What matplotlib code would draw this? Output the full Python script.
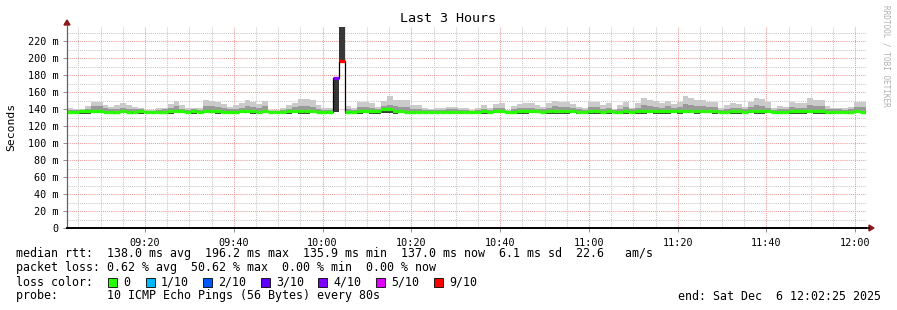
import numpy as np
import matplotlib
matplotlib.use("Agg")
import matplotlib.pyplot as plt
from matplotlib.patches import Rectangle

# ---------------- data ----------------
step_s = 80
start_s = 9 * 3600 + 2 * 60 + 25          # 09:02:25
span_s = 3 * 3600                          # 3 hours

ping_max = [140.8, 140.0, 140.0, 143.5, 148.6, 147.8, 144.7, 142.7, 144.7, 146.7,
            144.7, 142.7, 140.8, 138.8, 138.8, 140.8, 141.6, 145.9, 149.4, 144.7,
            140.8, 141.6, 140.8, 150.6, 149.8, 148.6, 145.5, 142.7, 144.7, 146.7,
            150.6, 148.6, 145.5, 149.4, 138.8, 138.8, 140.8, 144.7, 147.5, 151.8,
            151.8, 150.6, 144.7, 140.8, 140.8, 176.0, 245.0, 143.5, 140.8, 148.6,
            148.6, 146.7, 142.7, 149.8, 155.3, 150.6, 150.6, 150.6, 144.7, 144.7,
            140.8, 139.6, 140.8, 140.8, 142.7, 142.0, 141.0, 140.8, 138.8, 141.6,
            144.7, 141.6, 145.5, 146.7, 138.8, 143.5, 145.5, 146.7, 146.7, 144.7,
            142.7, 146.7, 149.4, 147.8, 148.6, 145.5, 142.7, 140.8, 148.6, 148.6,
            144.7, 146.7, 140.0, 144.7, 147.8, 141.6, 146.7, 153.3, 150.6, 149.4,
            146.7, 149.4, 145.5, 148.6, 155.0, 152.5, 150.6, 150.6, 147.8, 147.8,
            140.8, 144.7, 146.7, 145.5, 142.7, 148.6, 153.3, 151.8, 147.8, 140.8,
            143.9, 142.7, 147.8, 146.7, 146.7, 153.3, 150.6, 150.6, 143.9, 141.6,
            141.6, 140.8, 142.7, 148.6, 148.6]

ping_upper = [139.0, 138.6, 139.2, 140.5, 143.5, 143.0, 141.0, 140.0, 140.5, 141.0,
              140.5, 140.0, 139.5, 137.8, 137.8, 138.6, 139.5, 141.5, 143.0, 140.5,
              138.8, 139.8, 139.0, 143.0, 143.5, 142.0, 141.0, 139.8, 140.5, 141.0,
              143.0, 142.5, 141.0, 143.5, 137.8, 137.8, 138.8, 140.5, 142.0, 143.5,
              144.0, 142.5, 140.5, 139.0, 138.8, 176.0, 245.0, 140.0, 138.8, 142.0,
              142.5, 141.5, 140.0, 143.0, 145.0, 143.0, 142.5, 142.0, 140.5, 140.0,
              138.8, 138.5, 139.0, 139.0, 139.8, 139.5, 139.0, 139.0, 137.8, 139.0,
              140.5, 139.0, 141.0, 141.0, 137.8, 140.0, 141.0, 141.5, 141.5, 140.5,
              139.8, 141.5, 143.0, 142.0, 142.5, 141.0, 139.8, 139.0, 142.5, 142.5,
              140.5, 141.5, 138.8, 140.5, 142.0, 139.5, 141.0, 144.5, 143.0, 142.5,
              141.0, 143.0, 141.0, 142.5, 145.5, 144.5, 143.5, 143.0, 142.0, 142.0,
              138.8, 140.5, 141.5, 141.0, 140.0, 142.5, 144.5, 143.5, 141.5, 138.8,
              140.5, 140.0, 142.0, 141.5, 141.5, 144.5, 143.0, 143.0, 140.5, 139.5,
              139.5, 139.0, 140.0, 142.0, 142.5]

ping_dark = [135.5, 135.2, 135.8, 135.0, 135.5, 135.9, 135.3, 135.6, 134.9, 135.8,
             135.2, 135.9, 135.0, 135.3, 135.2, 135.6, 135.8, 134.9, 135.4, 135.6,
             135.2, 136.0, 135.0, 135.9, 135.5, 135.0, 135.8, 135.3, 135.1, 135.7,
             135.9, 135.2, 135.3, 135.8, 135.3, 135.2, 135.0, 135.7, 135.4, 136.0,
             136.1, 135.3, 135.1, 135.4, 135.0, 176.0, 245.0, 135.0, 135.3, 135.9,
             136.0, 135.8, 135.5, 137.5, 137.8, 135.8, 135.6, 135.2, 135.0, 135.1,
             135.3, 135.1, 135.2, 135.0, 135.3, 135.0, 135.1, 135.2, 135.3, 135.0,
             135.8, 135.6, 135.9, 135.5, 135.3, 135.2, 135.9, 136.0, 135.3, 135.0,
             135.4, 135.8, 136.0, 135.5, 135.9, 135.9, 135.0, 135.2, 136.0, 135.9,
             135.0, 135.6, 135.0, 135.2, 136.0, 135.0, 135.9, 136.2, 135.5, 136.0,
             135.5, 135.9, 135.1, 136.2, 135.8, 136.2, 135.5, 135.9, 135.2, 135.6,
             135.0, 135.4, 135.9, 135.2, 135.1, 135.9, 136.1, 135.3, 135.9, 135.1,
             135.3, 135.1, 135.9, 135.6, 135.4, 136.1, 135.9, 135.5, 135.0, 135.2,
             135.2, 135.0, 135.4, 135.8, 135.3]

ping_min = [134.8, 135.0, 134.6, 134.5, 134.8, 135.0, 134.9, 135.0, 134.6, 134.8,
            135.0, 134.5, 134.4, 135.0, 135.1, 135.0, 134.8, 134.6, 134.8, 135.0,
            135.0, 134.2, 134.8, 134.9, 135.0, 134.6, 134.8, 135.0, 134.6, 134.9,
            134.8, 134.6, 134.8, 135.0, 135.2, 135.1, 134.8, 134.5, 134.8, 134.6,
            134.4, 134.8, 134.9, 134.6, 134.8, 137.0, 196.0, 134.4, 135.0, 134.6,
            134.8, 134.3, 134.6, 135.5, 135.0, 134.7, 134.9, 135.0, 134.9, 135.0,
            135.1, 135.0, 135.0, 134.8, 134.9, 134.8, 135.0, 135.0, 135.2, 134.8,
            134.6, 134.6, 134.9, 135.0, 135.1, 134.8, 134.6, 134.7, 134.8, 134.9,
            134.9, 134.5, 134.4, 134.7, 134.6, 134.8, 134.6, 134.9, 134.4, 134.7,
            134.2, 134.5, 134.9, 134.3, 134.7, 134.8, 134.5, 134.6, 134.8, 134.7,
            134.6, 134.2, 134.8, 134.7, 134.9, 134.8, 134.6, 134.8, 134.8, 134.6,
            135.0, 134.8, 134.6, 134.5, 134.8, 134.9, 134.7, 134.4, 134.8, 135.0,
            134.6, 134.8, 134.4, 134.7, 134.7, 134.8, 134.6, 134.5, 134.3, 134.7,
            134.8, 134.8, 134.7, 134.8, 134.8]

median_rtt = [137.0, 136.6, 137.2, 137.4, 137.6, 137.4, 137.0, 136.8, 137.0, 137.2,
              137.0, 136.8, 137.2, 136.4, 136.4, 136.6, 136.8, 137.2, 137.6, 137.2,
              136.6, 137.8, 137.0, 137.4, 137.4, 137.2, 137.0, 136.8, 137.0, 137.2,
              137.6, 137.4, 137.0, 137.8, 136.2, 136.2, 136.6, 137.2, 137.4, 137.8,
              138.0, 137.4, 136.8, 136.6, 136.6, 176.0, 196.0, 136.4, 136.6, 137.6,
              137.8, 137.4, 137.6, 139.6, 140.4, 138.0, 137.4, 137.0, 136.8, 136.8,
              136.4, 136.2, 136.4, 136.8, 137.0, 136.6, 136.4, 136.8, 136.4, 136.8,
              137.6, 137.0, 137.6, 137.4, 136.2, 137.0, 137.6, 137.8, 137.6, 137.2,
              136.8, 137.2, 137.8, 137.6, 137.8, 137.6, 136.8, 136.6, 137.8, 137.8,
              137.0, 137.4, 136.6, 137.0, 137.6, 136.8, 137.4, 138.2, 138.0, 137.8,
              137.4, 137.8, 137.4, 138.0, 138.2, 138.0, 137.8, 137.6, 137.4, 137.4,
              136.6, 137.0, 137.4, 137.4, 136.8, 137.6, 138.0, 137.8, 137.4, 136.6,
              137.0, 136.8, 137.4, 137.4, 137.4, 138.0, 137.8, 137.8, 137.0, 136.8,
              136.8, 136.6, 137.0, 137.4, 137.0]

loss_tenths = [0] * 45 + [4, 9] + [0] * 88

y_ticks = [0, 20, 40, 60, 80, 100, 120, 140, 160, 180, 200, 220]
y_tick_labels = ["0", "20 m", "40 m", "60 m", "80 m", "100 m", "120 m",
                 "140 m", "160 m", "180 m", "200 m", "220 m"]
x_tick_labels = ["09:20", "09:40", "10:00", "10:20", "10:40", "11:00",
                 "11:20", "11:40", "12:00"]
x_tick_times = [9*3600+20*60, 9*3600+40*60, 10*3600, 10*3600+20*60,
                10*3600+40*60, 11*3600, 11*3600+20*60, 11*3600+40*60, 12*3600]

loss_levels = ["0", "1/10", "2/10", "3/10", "4/10", "5/10", "9/10"]
loss_level_tenths = [0, 1, 2, 3, 4, 5, 9]
loss_colors = ["#26ff00", "#00b8ff", "#0059ff", "#5e00ff", "#7e00ff", "#dd00ff", "#ff0000"]

stats_line1 = "median rtt:  138.0 ms avg  196.2 ms max  135.9 ms min  137.0 ms now  6.1 ms sd  22.6   am/s"
stats_line2 = "packet loss: 0.62 % avg  50.62 % max  0.00 % min  0.00 % now"
probe_line = "probe:       10 ICMP Echo Pings (56 Bytes) every 80s"
end_line = "end: Sat Dec  6 12:02:25 2025"

# ---------------- figure ----------------
W, H = 897, 310
fig = plt.figure(figsize=(W/100, H/100), dpi=100)
fig.patch.set_facecolor("white")
MONO = "DejaVu Sans Mono"

def fx(px):
    return px / W

def fy(py):
    return 1 - py / H

ax = fig.add_axes([fx(67), fy(228), fx(866) - fx(67), fy(27) - fy(228)])
ax.set_facecolor("white")
ymax = 236.5
ax.set_xlim(start_s, start_s + span_s)
ax.set_ylim(0, ymax)

n = len(median_rtt)
edges = start_s + step_s * np.arange(n + 1)
pmin = np.array(ping_min)
pmax = np.minimum(np.array(ping_max), ymax)
pup = np.minimum(np.array(ping_upper), ymax)
pdark = np.minimum(np.array(ping_dark), ymax)
med = np.array(median_rtt)
loss = np.array(loss_tenths)

# grid
minor_x = np.arange(9*3600 + 5*60, start_s + span_s, 300)
for t in minor_x:
    if t in x_tick_times:
        continue
    ax.axvline(t, color="#c8c8c8", lw=0.75, ls=(0, (1, 1)), zorder=0)
for t in x_tick_times:
    ax.axvline(t, color="#f09a9a", lw=0.75, ls=(0, (1, 1)), zorder=0.5)
for v in range(10, 236, 20):
    ax.axhline(v, color="#c8c8c8", lw=0.75, ls=(0, (1, 1)), zorder=0)
for v in y_ticks[1:]:
    ax.axhline(v, color="#f09a9a", lw=0.75, ls=(0, (1, 1)), zorder=0.5)

# smoke
ax.stairs(pmax, edges, baseline=pmin, fill=True, color="#cacaca", lw=0, zorder=2)
ax.stairs(pup, edges, baseline=pmin, fill=True, color="#999999", lw=0, zorder=3)
ax.stairs(pdark, edges, baseline=pmin, fill=True, color="#383838", lw=0, zorder=4)

# median: thin black outline only around the lossy steps
lossy = np.where(loss > 0)[0]
a, b = lossy.min() - 1, lossy.max() + 2
ax.stairs(med[a:b], edges[a:b + 1], baseline=None, color="black", lw=0.9, zorder=5)
cmap = dict(zip(loss_level_tenths, loss_colors))
seg_colors = [cmap[l] for l in loss_tenths]
ax.hlines(med, edges[:-1], edges[1:], colors=seg_colors, lw=2.4, zorder=6)

# axes styling
for s in ["top", "right"]:
    ax.spines[s].set_visible(False)
ax.spines["left"].set_color("#606060")
ax.spines["left"].set_linewidth(0.8)
ax.spines["bottom"].set_color("black")
ax.spines["bottom"].set_linewidth(1.2)

ax.set_yticks(y_ticks)
ax.set_yticklabels(y_tick_labels, fontfamily=MONO, fontsize=7.3)
ax.set_xticks(x_tick_times)
ax.set_xticklabels(x_tick_labels, fontfamily=MONO, fontsize=7.3)
ax.tick_params(axis="both", length=3, width=0.6, color="#808080", pad=3)
ax.tick_params(axis="x", pad=4)

# arrows
fig.add_artist(plt.Polygon([[fx(64), fy(25)], [fx(70), fy(25)], [fx(67), fy(20)]],
                           closed=True, color="#8b1a1a", transform=fig.transFigure))
fig.add_artist(plt.Line2D([fx(67), fx(67)], [fy(228), fy(25)], color="#606060",
                          lw=0.8, transform=fig.transFigure))
fig.add_artist(plt.Line2D([fx(67), fx(869)], [fy(228), fy(228)], color="black",
                          lw=1.2, transform=fig.transFigure))
fig.add_artist(plt.Polygon([[fx(869), fy(225)], [fx(869), fy(231)], [fx(874), fy(228)]],
                           closed=True, color="#8b1a1a", transform=fig.transFigure))

# title / labels
fig.text(fx(448), fy(19), "Last 3 Hours", ha="center", va="center",
         fontfamily=MONO, fontsize=9.6)
fig.text(fx(11), fy(127), "Seconds", ha="center", va="center", rotation=90,
         fontfamily=MONO, fontsize=8.2)
fig.text(fx(886), fy(5), "RRDTOOL / TOBI OETIKER", ha="center", va="top",
         rotation=270, fontfamily=MONO, fontsize=5.6, color="#b0b0b0")

# legend / stats
FS = 8.4
fig.text(fx(16), fy(254), stats_line1, ha="left", va="center", fontfamily=MONO, fontsize=FS)
fig.text(fx(16), fy(268), stats_line2, ha="left", va="center", fontfamily=MONO, fontsize=FS)
fig.text(fx(16), fy(282), "loss color:", ha="left", va="center", fontfamily=MONO, fontsize=FS)
box_x = [108, 146, 203, 261, 318, 376, 434]
for bx, lab, col in zip(box_x, loss_levels, loss_colors):
    fig.add_artist(Rectangle((fx(bx), fy(286.5)), 9/W, 9/H, facecolor=col,
                             edgecolor="black", lw=0.6, transform=fig.transFigure))
    fig.text(fx(bx + 15), fy(282), lab, ha="left", va="center", fontfamily=MONO, fontsize=FS)
fig.text(fx(16), fy(296), probe_line, ha="left", va="center", fontfamily=MONO, fontsize=FS)
fig.text(fx(881), fy(296), end_line, ha="right", va="center", fontfamily=MONO, fontsize=FS)

fig.savefig("out.png", dpi=100, facecolor="white")
